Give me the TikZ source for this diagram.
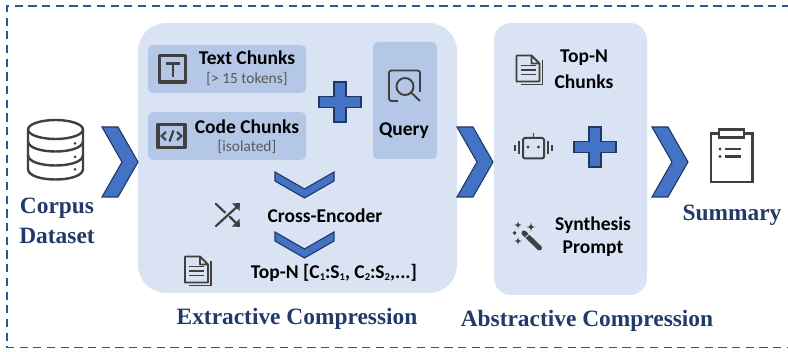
\documentclass[tikz,border=0pt]{standalone}
\usepackage{fontspec}
\setmainfont{Carlito}
\newfontfamily\serifbold[Scale=1]{Liberation Serif}
\newcommand{\tinysub}[1]{\raisebox{-.14em}{\fontsize{10.5}{11}\selectfont #1}}
\definecolor{panelbg}{HTML}{DAE3F3}
\definecolor{innerbg}{HTML}{B4C7E7}
\definecolor{shapeblue}{HTML}{4472C4}
\definecolor{shapeedge}{HTML}{203864}
\definecolor{dashblue}{HTML}{2F5597}
\definecolor{titleblue}{HTML}{223A68}
\definecolor{iconink}{HTML}{404040}
\definecolor{subgray}{HTML}{595959}
\tikzset{
  panel/.style={fill=panelbg,draw=none,inner sep=0pt},
  innerbox/.style={fill=innerbg,draw=none,inner sep=0pt,rounded corners=5pt},
  lab/.style={font=\fontsize{19.5}{22}\selectfont\bfseries,text=black,inner sep=0pt,align=center},
  sublab/.style={font=\fontsize{15.4}{18}\selectfont,text=subgray,inner sep=0pt},
  serifttl/.style={font=\fontsize{23.4}{26}\selectfont\serifbold\bfseries,text=titleblue,inner sep=0pt,align=center},
  shapeline/.style={fill=shapeblue,draw=shapeedge,line width=1.1pt,line join=miter},
  ink/.style={draw=iconink,line width=#1,line join=round},
  ink/.default=2pt,
  chevright/.pic={\path[shapeline] (0,-35)--(16,-35)--(36,0)--(16,35)--(0,35)--(20,0)--cycle;},
  chevdown/.pic={\path[shapeline] (-29.5,-13)--(0,4)--(29.5,-13)--(29.5,-4)--(0,13)--(-29.5,-4)--cycle;},
  plusshape/.pic={\path[shapeline] (-6,-20)--(6,-20)--(6,-5.5)--(21,-5.5)--(21,5.5)--(6,5.5)--(6,20)--(-6,20)--(-6,5.5)--(-21,5.5)--(-21,-5.5)--(-6,-5.5)--cycle;},
  docicon/.pic={
    \draw[ink=1.9pt] (15,0)--(0,0)--(0,26)--(23,26)--(23,8)--(15,0)--(15,8)--(23,8);
    \draw[ink=1.5pt] (26,5)--(26,29)--(4,29);
    \draw[ink=1.5pt] (4,10)--(19,10) (4,14.5)--(19,14.5) (4,19)--(19,19);
  },
  sparkle/.pic={\fill[iconink] (0,-#1)..controls (.15*#1,-.15*#1)..(#1,0)..controls (.15*#1,.15*#1)..(0,#1)..controls (-.15*#1,.15*#1)..(-#1,0)..controls (-.15*#1,-.15*#1)..(0,-#1)--cycle;}
}
\begin{document}
\begin{tikzpicture}[x=1pt,y=-1pt]
\useasboundingbox (0,0) rectangle (788,352);
% frame
\draw[dashblue,line width=1.7pt,dash pattern=on 8.2pt off 5.5pt] (790,6)--(7,6)--(7,347.5)--(790,347.5);
% panels
\node[panel,rounded corners=28pt,minimum width=319pt,minimum height=270pt] (extract) at (297.5,158) {};
\node[panel,rounded corners=17pt,minimum width=153pt,minimum height=272pt] (abstract) at (570.5,159) {};
\node[innerbox,minimum width=158pt,minimum height=48pt] (textbox) at (227,69) {};
\node[innerbox,minimum width=158pt,minimum height=48pt] (codebox) at (227,136) {};
\node[innerbox,minimum width=64pt,minimum height=117pt] (querybox) at (405,100.5) {};
% chevrons and plus signs
\pic at (102,162) {chevright};
\pic at (457,162) {chevright};
\pic at (652,162) {chevright};
\pic at (304.5,185) {chevdown};
\pic at (304.5,245) {chevdown};
\pic at (340,102) {plusshape};
\pic at (595,147) {plusshape};
% database icon
\begin{scope}[ink=2.4pt]
\draw (55.5,129.5) ellipse [x radius=27.5,y radius=9.5];
\draw (28,129.5)--(28,169) .. controls (28,183) and (83,183) .. (83,169)--(83,129.5);
\draw (28,141) .. controls (28,155) and (83,155) .. (83,141);
\draw (28,155) .. controls (28,169) and (83,169) .. (83,155);
\end{scope}
\fill[iconink] (75,143.5) circle (1.5) (75,157) circle (1.5) (75,169.5) circle (1.5);
\node[serifttl] (corpus) at (57,208) {Corpus};
\node[serifttl] (dataset) at (57,236) {Dataset};
% text chunks
\draw[ink=3.2pt] (159.5,55.5) rectangle (185.5,82);
\draw[ink=2.8pt] (166,63.5)--(180,63.5) (173,63.5)--(173,77);
\node[lab] (textlab) at (247,58) {Text Chunks};
\node[sublab] (textsub) at (247,79) {[> 15 tokens]};
% code chunks
\draw[ink=3.2pt] (158,124.5) rectangle (185,147.5);
\draw[ink=2.2pt] (166,132)--(161.5,136)--(166,140) (177,132)--(181.5,136)--(177,140) (173.5,130.5)--(169.5,141.5);
\node[lab] (codelab) at (247,126.5) {Code Chunks};
\node[sublab] (codesub) at (247,147) {[isolated]};
% query
\draw[ink=1.9pt,rounded corners=2.5pt] (420,92)--(420,70.5)--(389,70.5)--(389,101)--(398,101);
\draw[ink=1.9pt] (405,86.5) circle (8.5) (411,92.5)--(420,101);
\node[lab] (querylab) at (404,131) {Query};
% cross encoder
\draw[ink=2.2pt,line cap=round] (216,226)--(239,205) (216,204)--(225,212.5) (230,217)--(238,225);
\fill[iconink] (240,203)--(232,203.5)--(239.5,211)--cycle;
\fill[iconink] (240,227)--(232,226.5)--(239.5,219)--cycle;
\node[lab] (crosslab) at (325,216) {Cross-Encoder};
% top-n
\pic at (185,256.5) {docicon};
\node[lab] (toplab) at (334,272.5) {Top-N [C\tinysub{1}:S\tinysub{1}, C\tinysub{2}:S\tinysub{2},...]};
\node[serifttl] (extitle) at (297,319) {Extractive Compression};
% abstractive
\pic at (516.5,55.5) {docicon};
\node[lab] (toplab2) at (584,58) {Top-N};
\node[lab] (chunkslab) at (584,82) {Chunks};
% robot
\draw[ink=2pt,rounded corners=2pt] (523,138)rectangle(544,158.5);
\draw[ink=1.6pt] (533.5,138)--(533.5,133.5);
\fill[iconink] (528,147) circle (1.6) (538.5,147) circle (1.6);
\draw[ink=2pt] (519,141.5)--(519,154.5) (548,141.5)--(548,154.5);
\draw[ink=2pt] (515,145)--(515,151) (552,145)--(552,151);
% wand
\draw[iconink,line width=5pt,line cap=round] (524,233)--(539.5,248);
\draw[panelbg,line width=.9pt] (525.5,237.5)--(529.5,233.5);
\pic at (518,225) {sparkle=4};
\pic at (531,227) {sparkle=4.6};
\pic at (518,241) {sparkle=4};
\pic at (514.5,233) {sparkle=2};
\node[lab] (synlab) at (593,225) {Synthesis};
\node[lab] (prolab) at (593,249) {Prompt};
\node[serifttl] (abtitle) at (587,321) {Abstractive Compression};
% summary
\draw[ink=2.8pt,line join=miter] (718,133.5)--(711,133.5)--(711,182)--(752.5,182)--(752.5,133.5)--(744,133.5);
\draw[ink=2.6pt,line join=miter] (719,129.5) rectangle (744,137.5);
\fill[iconink] (720,149) circle (1.6) (720,156.5) circle (1.6);
\draw[ink=2.6pt] (725,149)--(741,149) (725,156.5)--(741,156.5);
\node[serifttl] (sumlab) at (732,215) {Summary};
\end{tikzpicture}
\end{document}
